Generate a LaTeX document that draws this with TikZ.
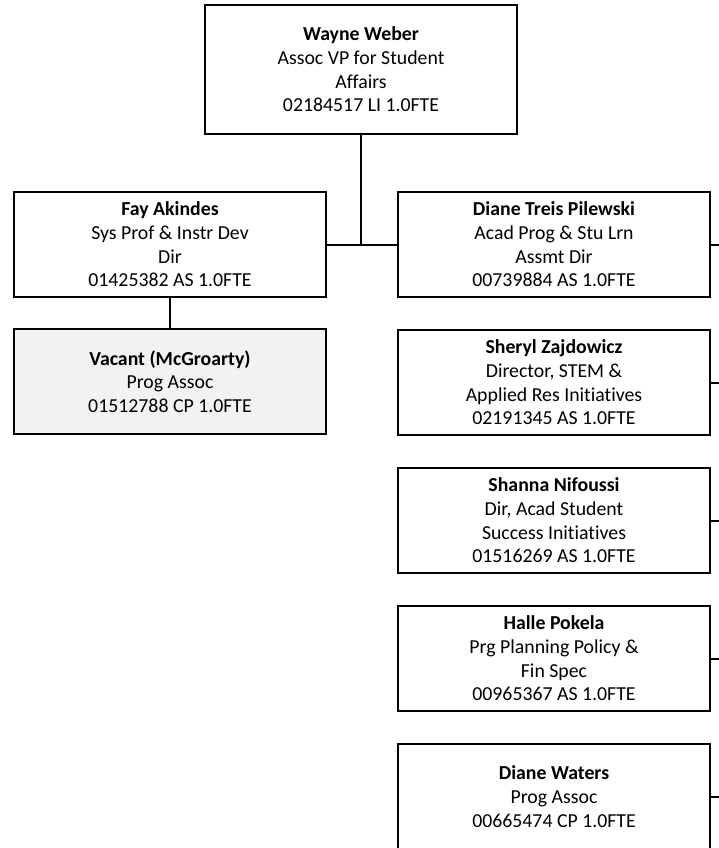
\documentclass[tikz,border=0pt]{standalone}
\usepackage{fontspec}
\setmainfont{Carlito}[Ligatures=NoCommon]
\usetikzlibrary{positioning}
\tikzset{postbox/.style={draw,rectangle,align=center,minimum width=312pt,minimum height=105pt,inner sep=0pt,
    font=\fontsize{19.8}{23.7}\selectfont},
  vacantbox/.style={postbox,fill=black!5}}

\begin{document}
\begin{tikzpicture}[x=1pt,y=-1pt,line width=2pt]
   \useasboundingbox (0,0) rectangle (719,848);
   \clip (0,0) rectangle (719,848);
   \coordinate (edge) at (719,0);
   \node[postbox,minimum height=129pt] (wweber) at (361,69.5)
     {\textbf{Wayne Weber}\\Assoc VP for Student\\Affairs\\02184517 LI 1.0FTE};
   \begin{scope}
    \node[postbox] (fakindes) at (170,244.5)
      {\textbf{Fay Akindes}\\Sys Prof \& Instr Dev\\Dir\\01425382 AS 1.0FTE};
    \node[vacantbox] (vacant) at (170,381.5)
      {\textbf{Vacant (McGroarty)}\\Prog Assoc\\01512788 CP 1.0FTE};
   \end{scope}
   \begin{scope}
    \node[postbox] (dpilewski) at (554,244.5)
      {\textbf{Diane Treis Pilewski}\\Acad Prog \& Stu Lrn\\Assmt Dir\\00739884 AS 1.0FTE};
    \node[postbox] (szajdowicz) at (554,382.5)
      {\textbf{Sheryl Zajdowicz}\\Director, STEM \&\\Applied Res Initiatives\\02191345 AS 1.0FTE};
    \node[postbox] (snifoussi) at (554,520.5)
      {\textbf{Shanna Nifoussi}\\Dir, Acad Student\\Success Initiatives\\01516269 AS 1.0FTE};
    \node[postbox] (hpokela) at (554,658.5)
      {\textbf{Halle Pokela}\\Prg Planning Policy \&\\Fin Spec\\00965367 AS 1.0FTE};
    \node[postbox] (dwaters) at (554,796.5)
      {\textbf{Diane Waters}\\Prog Assoc\\00665474 CP 1.0FTE};
   \end{scope}
   \draw (fakindes.east) -- (dpilewski.west);
   \draw (wweber.south) -- (wweber.south |- fakindes.east);
   \draw (fakindes.south) -- (vacant.north);
   \foreach \n in {dpilewski,szajdowicz,snifoussi,hpokela,dwaters}
    \draw (\n.east) -- (\n.east -| edge);
  \end{tikzpicture}
\end{document}
